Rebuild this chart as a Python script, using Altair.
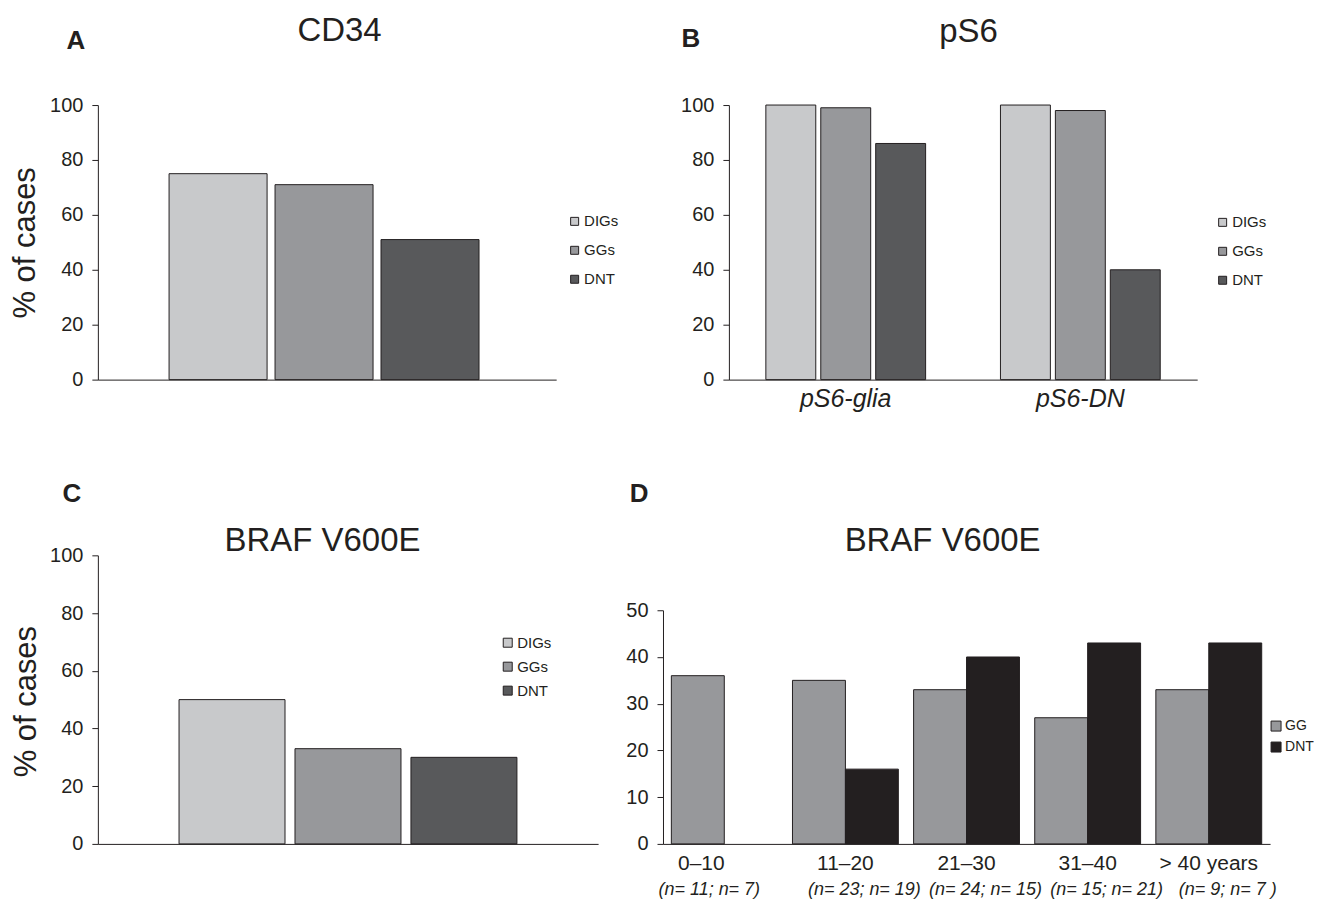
import altair as alt
import pandas as pd

FONT = "Liberation Sans, Arial, Helvetica, sans-serif"
INK = "#231f20"

# ---------------- data ----------------
groups = ["DIGs", "GGs", "DNT"]
group_colors = ["#c8c9cb", "#97989b", "#58595b"]

# Panel A: CD34
cd34_values = [75, 71, 51]

# Panel B: pS6
ps6_markers = ["pS6-glia", "pS6-DN"]
ps6_digs = [100, 100]
ps6_ggs = [99, 98]
ps6_dnt = [86, 40]

# Panel C: BRAF V600E by tumour type
braf_values = [50, 33, 30]

# Panel D: BRAF V600E by age group
age_groups = ["0–10", "11–20", "21–30", "31–40", "> 40 years"]
age_n = ["(n= 11; n= 7)", "(n= 23; n= 19)", "(n= 24; n= 15)", "(n= 15; n= 21)", "(n= 9; n= 7 )"]
d_series = ["GG", "DNT"]
d_colors = ["#97989b", "#231f20"]
braf_gg = [36, 35, 33, 27, 33]
braf_dnt = [0, 16, 40, 43, 43]

panel_letters = ["A", "B", "C", "D"]
panel_titles = ["CD34", "pS6", "BRAF V600E", "BRAF V600E"]
y_title = "% of cases"

# ---------------- helpers ----------------
def legend(x, y, size, row_pad, font_size=15, offset=2):
    return alt.Legend(title=None, orient="none", legendX=x, legendY=y,
                      symbolType="square", symbolSize=size, symbolStrokeColor=INK,
                      symbolStrokeWidth=1, labelFont=FONT, labelFontSize=font_size,
                      labelColor=INK, rowPadding=row_pad, labelOffset=offset, padding=0)


def letter(ch, x, y):
    return alt.Chart(pd.DataFrame({"letter": [ch]})).mark_text(
        font=FONT, fontSize=26, fontWeight="bold", color=INK,
        align="center", baseline="middle").encode(
        text="letter:N", x=alt.value(x), y=alt.value(y))


def heading(text, x, y):
    return alt.Chart(pd.DataFrame({"heading": [text]})).mark_text(
        font=FONT, fontSize=33, color=INK, align="center", baseline="middle").encode(
        text="heading:N", x=alt.value(x), y=alt.value(y))


pct_axis_vals = [0, 20, 40, 60, 80, 100]

# ---------------- Panel A ----------------
dfA = pd.DataFrame({"group": groups, "value": cd34_values})
barsA = alt.Chart(dfA).mark_bar(stroke=INK, strokeWidth=1).encode(
    x=alt.X("group:N", sort=groups,
            scale=alt.Scale(paddingInner=0.075, paddingOuter=0.7, align=0.48),
            axis=alt.Axis(labels=False, ticks=False, title=None)),
    y=alt.Y("value:Q", scale=alt.Scale(domain=[0, 100]),
            axis=alt.Axis(values=pct_axis_vals, title=y_title, titleX=-72, titleY=137.5,
                          titleAngle=-90, titleBaseline="middle", titleAlign="center",
                          titleFontSize=31, titleFontWeight="normal")),
    color=alt.Color("group:N", sort=groups,
                    scale=alt.Scale(domain=groups, range=group_colors),
                    legend=legend(470, 109, 64, 13)),
)
pA = alt.layer(barsA, letter(panel_letters[0], -22, -64),
               heading(panel_titles[0], 242, -74)).properties(width=459, height=275)

# ---------------- Panel B (frame starts at D's left edge; axes shifted) ----------------
rowsB = []
for i, m in enumerate(ps6_markers):
    for g, v in zip(groups, [ps6_digs[i], ps6_ggs[i], ps6_dnt[i]]):
        rowsB.append({"marker": m, "group": g, "value": v})
dfB = pd.DataFrame(rowsB)
barsB = alt.Chart(dfB).mark_bar(stroke=INK, strokeWidth=1).encode(
    x=alt.X("marker:N", sort=ps6_markers,
            scale=alt.Scale(range=[66, 535], paddingInner=0.319, paddingOuter=0.1575),
            axis=alt.Axis(title=None, ticks=False, labelAngle=0, labelFontStyle="italic",
                          labelFontSize=25, labelPadding=7)),
    xOffset=alt.XOffset("group:N", sort=groups,
                        scale=alt.Scale(paddingInner=0.091, paddingOuter=0)),
    y=alt.Y("value:Q", scale=alt.Scale(domain=[0, 100]),
            axis=alt.Axis(values=pct_axis_vals, title=None, offset=-66)),
    color=alt.Color("group:N", sort=groups,
                    scale=alt.Scale(domain=groups, range=group_colors),
                    legend=legend(553, 110, 64, 13)),
)
pB = alt.layer(barsB, letter(panel_letters[1], 28, -66),
               heading(panel_titles[1], 306, -73)).properties(width=535, height=275)

# ---------------- Panel C ----------------
dfC = pd.DataFrame({"group": groups, "value": braf_values})
barsC = alt.Chart(dfC).mark_bar(stroke=INK, strokeWidth=1).encode(
    x=alt.X("group:N", sort=groups,
            scale=alt.Scale(paddingInner=0.086, paddingOuter=0.7),
            axis=alt.Axis(labels=False, ticks=False, title=None)),
    y=alt.Y("value:Q", scale=alt.Scale(domain=[0, 100]),
            axis=alt.Axis(values=pct_axis_vals, title=y_title, titleX=-71, titleY=146,
                          titleAngle=-90, titleBaseline="middle", titleAlign="center",
                          titleFontSize=31, titleFontWeight="normal")),
    color=alt.Color("group:N", sort=groups,
                    scale=alt.Scale(domain=groups, range=group_colors),
                    legend=legend(403, 80, 81, 8)),
)
pC = alt.layer(barsC, letter(panel_letters[2], -26, -61),
               heading(panel_titles[2], 225, -14)).properties(width=501, height=289)

# ---------------- Panel D ----------------
rowsD = []
for i, a in enumerate(age_groups):
    rowsD.append({"age": a, "series": "GG", "value": braf_gg[i]})
    rowsD.append({"age": a, "series": "DNT", "value": braf_dnt[i]})
dfD = pd.DataFrame(rowsD)
dfN = pd.DataFrame({"age": age_groups, "n": age_n})

xD_scale = alt.Scale(domain=age_groups, paddingInner=0.126, paddingOuter=0.069)
xD_axis = alt.Axis(title=None, ticks=False, labelAngle=0, labelFontSize=21, labelPadding=9,
                   labelOffset={"condition": {"test": "datum.value == '0–10'", "value": -23},
                                "value": 0})
barsD = alt.Chart(dfD).transform_filter(alt.datum.value > 0).mark_bar(
    stroke=INK, strokeWidth=1).encode(
    x=alt.X("age:N", sort=age_groups, scale=xD_scale, axis=xD_axis),
    xOffset=alt.XOffset("series:N", sort=d_series,
                        scale=alt.Scale(domain=d_series, paddingInner=0, paddingOuter=0)),
    y=alt.Y("value:Q", scale=alt.Scale(domain=[0, 50], range=[289, 55]),
            axis=alt.Axis(values=[0, 10, 20, 30, 40, 50], title=None)),
    color=alt.Color("series:N", sort=d_series,
                    scale=alt.Scale(domain=d_series, range=d_colors),
                    legend=legend(607, 164, 100, 7, 14, 2)),
)
nFirst = alt.Chart(dfN).transform_filter(alt.datum.age == age_groups[0]).mark_text(
    font=FONT, fontSize=18, fontStyle="italic", color=INK, baseline="middle", dx=-15).encode(
    x=alt.X("age:N", sort=age_groups, scale=xD_scale, axis=xD_axis),
    text="n:N", y=alt.value(335))
nRest = alt.Chart(dfN).transform_filter(alt.datum.age != age_groups[0]).mark_text(
    font=FONT, fontSize=18, fontStyle="italic", color=INK, baseline="middle", dx=19).encode(
    x=alt.X("age:N", sort=age_groups, scale=xD_scale, axis=xD_axis),
    text="n:N", y=alt.value(335))
pD = alt.layer(barsD, nFirst, nRest, letter(panel_letters[3], -24, -61),
               heading(panel_titles[3], 280, -14)).properties(width=608, height=289)

chart = alt.concat(pA, pB, pC, pD, columns=2,
                   spacing={"row": 176, "column": 65}, bounds="flush").resolve_scale(
    color="independent", xOffset="independent").resolve_legend(
    color="independent").properties(
    background="white", padding={"left": 1, "top": 6.5, "right": 0, "bottom": 0}).configure_view(
    stroke=None).configure_axis(
    labelFont=FONT, labelFontSize=20, labelColor=INK, domainColor=INK, tickColor=INK,
    tickSize=6, labelPadding=9, grid=False, titleFont=FONT, titleColor=INK,
    domainWidth=1, tickWidth=1)

chart.save("out.html", embed_options={"renderer": "svg", "actions": False})
